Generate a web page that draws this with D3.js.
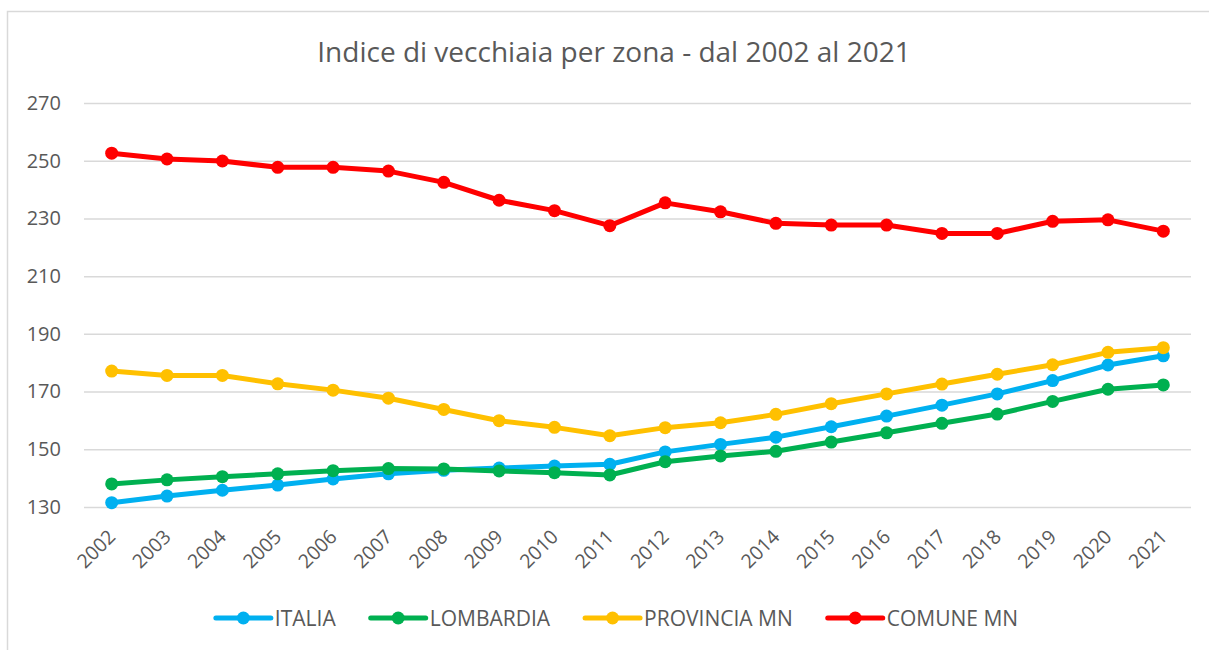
<!DOCTYPE html>
<html lang="it">
<head>
<title>Indice di vecchiaia</title>
<meta charset="utf-8">
<script src="https://cdnjs.cloudflare.com/ajax/libs/d3/7.8.5/d3.min.js"></script>
<style>
body {
    margin: 0;
    background: #fff;
}
text {
    font-family: "Open Sans", "Noto Sans", sans-serif;
    fill: #595959;
}
</style>
</head>
<body>
<div id='chart'></div>
<script>

var years = ['2002','2003','2004','2005','2006','2007','2008','2009','2010','2011',
             '2012','2013','2014','2015','2016','2017','2018','2019','2020','2021']
var yTicks = [130, 150, 170, 190, 210, 230, 250, 270]

var seriesNames = ['ITALIA', 'LOMBARDIA', 'PROVINCIA MN', 'COMUNE MN']
var seriesColors = ['#00B0F0', '#00B050', '#FFC000', '#FF0000']

var italia = [131.5, 133.8, 135.8, 137.6, 139.7, 141.5, 142.7, 143.5, 144.2, 144.8,
              149.1, 151.7, 154.2, 157.8, 161.5, 165.3, 169.2, 173.8, 179.2, 182.4]
var lombardia = [138.0, 139.4, 140.5, 141.5, 142.6, 143.3, 143.2, 142.5, 141.9, 141.1,
                 145.7, 147.7, 149.3, 152.5, 155.7, 159.0, 162.2, 166.6, 170.8, 172.3]
var provinciaMN = [177.1, 175.6, 175.6, 172.7, 170.5, 167.7, 163.8, 159.9, 157.6, 154.7,
                   157.5, 159.2, 162.1, 165.8, 169.2, 172.6, 176.0, 179.3, 183.6, 185.2]
var comuneMN = [252.6, 250.6, 249.9, 247.7, 247.7, 246.4, 242.5, 236.3, 232.7, 227.5,
                235.4, 232.3, 228.3, 227.7, 227.7, 224.8, 224.8, 229.0, 229.5, 225.6]

var allSeries = [italia, lombardia, provinciaMN, comuneMN]

var svgWidth = 1209, svgHeight = 650
var plot = { left: 84, right: 1191, top: 103, bottom: 507 }

var svg = d3.select('#chart')
    .append('svg')
    .attr('width', svgWidth)
    .attr('height', svgHeight)

// chart frame (runs off the right and bottom edges in the original)
svg.append('rect')
    .attr('x', 7.5)
    .attr('y', 11.5)
    .attr('width', svgWidth + 10)
    .attr('height', svgHeight + 10)
    .attr('fill', 'none')
    .attr('stroke', '#d9d9d9')
    .attr('stroke-width', 1.5)

var x = d3.scaleBand()
    .domain(years)
    .range([plot.left, plot.right])

var y = d3.scaleLinear()
    .domain([130, 270])
    .range([plot.bottom, plot.top])

svg.append('text')
    .attr('x', 614)
    .attr('y', 62)
    .attr('text-anchor', 'middle')
    .style('font-size', '28px')
    .text('Indice di vecchiaia per zona - dal 2002 al 2021')

// y grid + labels
var yAxis = svg.append('g')
    .attr('transform', 'translate(' + plot.left + ',0)')
    .call(d3.axisLeft(y).tickValues(yTicks).tickSize(-(plot.right - plot.left)).tickPadding(23))
yAxis.select('.domain').remove()
yAxis.selectAll('line')
    .attr('stroke', '#d9d9d9')
    .attr('stroke-width', 1.5)
yAxis.selectAll('text')
    .style('font-size', '20px')
    .style('font-family', '"Open Sans", sans-serif')
    .attr('fill', '#595959')

// x labels, rotated
var xAxis = svg.append('g')
    .attr('transform', 'translate(0,' + plot.bottom + ')')
    .call(d3.axisBottom(x).tickSize(0).tickPadding(0))
xAxis.select('.domain').remove()
xAxis.selectAll('text')
    .style('font-size', '19.5px')
    .style('font-family', '"Open Sans", sans-serif')
    .attr('fill', '#595959')
    .attr('text-anchor', 'end')
    .attr('dy', null)
    .attr('y', 0)
    .attr('transform', 'translate(5,31) rotate(-45)')

var line = d3.line()
    .x(function(d, i) { return x(years[i]) + x.bandwidth() / 2 })
    .y(function(d) { return y(d) })

allSeries.forEach(function(values, s) {
    var g = svg.append('g')
    g.append('path')
        .datum(values)
        .attr('d', line)
        .attr('fill', 'none')
        .attr('stroke', seriesColors[s])
        .attr('stroke-width', 5)
        .attr('stroke-linejoin', 'round')
    g.selectAll('circle')
        .data(values)
        .enter().append('circle')
        .attr('cx', function(d, i) { return x(years[i]) + x.bandwidth() / 2 })
        .attr('cy', function(d) { return y(d) })
        .attr('r', 6.5)
        .attr('fill', seriesColors[s])
})

// legend: items laid out from measured text widths, centred
var legend = svg.append('g')
    .attr('transform', 'translate(0,618)')
var items = []
seriesNames.forEach(function(name, s) {
    var item = legend.append('g')
    item.append('line')
        .attr('x1', 0).attr('x2', 55)
        .attr('stroke', seriesColors[s])
        .attr('stroke-width', 5)
        .attr('stroke-linecap', 'round')
    item.append('circle')
        .attr('cx', 27.5)
        .attr('r', 6.5)
        .attr('fill', seriesColors[s])
    var t = item.append('text')
        .attr('x', 59)
        .attr('y', 7.5)
        .style('font-size', '21px')
        .text(name)
    items.push({ g: item, w: 59 + t.node().getComputedTextLength() })
})
var gap = 35
var total = d3.sum(items, function(d) { return d.w }) + gap * (items.length - 1)
var pos = 617 - total / 2
items.forEach(function(d) {
    d.g.attr('transform', 'translate(' + pos + ',0)')
    pos += d.w + gap
})

</script>
</body>
</html>
